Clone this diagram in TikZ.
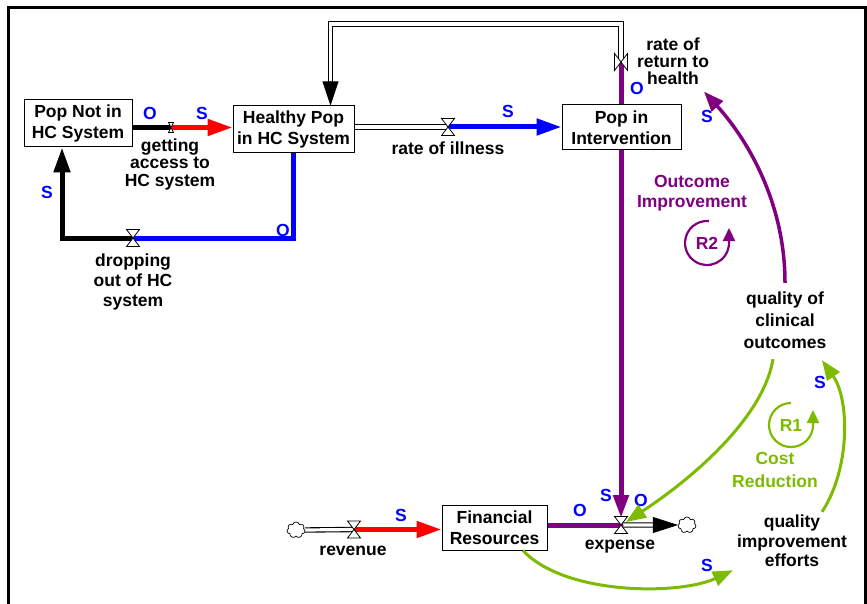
\documentclass[tikz,border=0pt]{standalone}
\usepackage{fontspec}
\setmainfont{Liberation Sans}
\usetikzlibrary{arrows.meta,shapes.symbols,calc,backgrounds}
\definecolor{linkgreen}{RGB}{124,187,0}
\definecolor{deeppurple}{RGB}{128,0,128}
\begin{document}
\begin{tikzpicture}[x=1pt,y=-1pt,
  txt/.style={font=\bfseries\fontsize{17.5}{#1}\selectfont,align=center,inner sep=0pt},
  txt/.default=21,
  stock/.style={txt,draw,line width=1pt,fill=white},
  pol/.style={txt,text=blue},
  pipe/.style={draw=black,double=white,double distance=3.2pt,line width=1.1pt},
  bighead/.style={-{Triangle[length=25pt,width=16pt]}},
  flowline/.style={line width=5pt},
  glink/.style={draw=linkgreen,line width=3pt,-{Triangle[length=20pt,width=15pt]}},
  plink/.style={draw=deeppurple,line width=3.5pt,-{Triangle[length=20pt,width=15pt]}},
  loopline/.style={line width=2.2pt,-{Triangle[length=13pt,width=12pt]}},
  cloudsrc/.style={cloud,cloud puffs=7,draw,line width=0.7pt,fill=white,
    minimum width=18pt,minimum height=16pt,inner sep=0pt,aspect=1.2},
  valve/.pic={\draw[line width=0.8pt,fill=white] (-6.5,-8.5) -- (6.5,-8.5) -- (-6.5,8.5) -- (6.5,8.5) -- cycle;},
  valveh/.pic={\draw[line width=0.8pt,fill=white] (-6.5,-8.5) -- (-6.5,8.5) -- (6.5,-8.5) -- (6.5,8.5) -- cycle;},
  smallvalve/.pic={\draw[line width=0.8pt,fill=white] (-2.5,-5) -- (2.5,-5) -- (-2.5,5) -- (2.5,5) -- cycle;},
]
\useasboundingbox (0,0) rectangle (867,604);

% stocks
\node[stock,minimum width=108pt,minimum height=47pt] (popnot) at (78,123.5) {Pop Not in\\HC System};
\node[stock,minimum width=121pt,minimum height=47pt] (heal) at (293.5,129.5) {Healthy Pop\\in HC System};
\node[stock,minimum width=119pt,minimum height=45pt] (pint) at (621.5,127.5) {Pop in\\Intervention};
\node[stock,minimum width=105pt,minimum height=45pt] (fin) at (494.5,527.5) {Financial\\Resources};

% sources and sinks
\node[cloudsrc] (cloudR) at (296,530) {};
\node[cloudsrc] (cloudE) at (687,525) {};

% flow and variable names
\node[txt=17.5] (lga) at (170,164) {getting\\access to\\HC system};
\node[txt=20] (ldr) at (133,282) {dropping\\out of HC\\system};
\node[txt] (lill) at (448,148) {rate of illness};
\node[txt=17] (ret) at (673,61) {rate of\\return to\\health};
\node[txt] (lexp) at (620,547) {expense};
\node[txt] (lrev) at (353,551) {revenue};
\node[txt=19.6] (qie) at (792,541) {quality\\improvement\\efforts};
\node[txt=22] (qco) at (785,320.5) {quality of\\clinical\\outcomes};

% loop names
\node[txt=20.5,text=deeppurple] (nameR2) at (692,193) {Outcome\\Improvement};
\node[txt=23,text=linkgreen] (nameR1) at (775,470) {Cost\\Reduction};
\node[txt,text=deeppurple] (r2) at (707,243) {R2};
\node[txt,text=linkgreen] (r1) at (791,425) {R1};

% polarity marks
\node[pol] (p1) at (150,113) {O};
\node[pol] (p2) at (202,113) {S};
\node[pol] (p3) at (47,192) {S};
\node[pol] (p4) at (283,230) {O};
\node[pol] (p5) at (508,111) {S};
\node[pol] (p6) at (637,88) {O};
\node[pol] (p7) at (707,116) {S};
\node[pol] (p8) at (606,495) {S};
\node[pol] (p9) at (641,500) {O};
\node[pol] (p10) at (580,510) {O};
\node[pol] (p11) at (401,515) {S};
\node[pol] (p12) at (707,565) {S};
\node[pol] (p13) at (820,382) {S};

% valve positions and pipe corners
\coordinate (vGa) at (171,127.5);
\coordinate (vDr) at (133,238);
\coordinate (vIll) at (448,127);
\coordinate (vRet) at (621,62);
\coordinate (vExp) at (621,525);
\coordinate (vRev) at (354,529.5);
\coordinate (pipeTop) at (330.5,24);
\coordinate (dropL) at (62,238);

\begin{pgfonlayer}{background}
  % frame
  \draw[line width=3pt] (8,610) -- (8,8) -- (865,8) -- (865,610);

  % pipes
  \draw[pipe] (heal.east |- vIll) -- (vIll);
  \draw[pipe] (vRet) -- (vRet |- pipeTop) -- (pipeTop) -- ($(heal.north -| pipeTop)+(0,-18)$);
  \draw[line width=0.6pt,-{Triangle[length=24pt,width=16pt]}] ($(heal.north -| pipeTop)+(0,-24)$) -- (heal.north -| pipeTop);
  \draw[pipe] (cloudR.east) -- (vRev);
  \draw[pipe] (vExp) -- ($(cloudE.west)+(-15,0)$);
  \draw[line width=0.6pt,-{Triangle[length=25pt,width=16pt]}] ($(cloudE.west)+(-25,0)$) -- (cloudE.west);

  % coloured flow segments
  \draw[flowline,line width=4.5pt,line cap=round] (popnot.east |- vGa) -- (vGa);
  \draw[flowline,red,bighead] (vGa) -- (heal.west |- vGa);
  \draw[flowline,blue,line cap=round] (heal.south) -- (heal.south |- vDr) -- (vDr);
  \draw[flowline,bighead] (vDr) -- (dropL) -- (dropL |- popnot.south);
  \draw[flowline,blue,bighead] (vIll) -- (pint.west |- vIll);
  \draw[flowline,deeppurple] (vRet) -- (vRet |- pint.north);
  \draw[flowline,deeppurple,line cap=round] (fin.east |- vExp) -- (vExp);
  \draw[flowline,red,bighead] (vRev) -- (fin.west |- vRev);

  % valves
  \path (vGa) pic {smallvalve};
  \path (vDr) pic {valve};
  \path (vIll) pic {valve};
  \path (vRev) pic {valve};
  \path (vExp) pic {valve};
  \path (vRet) pic {valveh};
\end{pgfonlayer}

% causal links
\draw[flowline,deeppurple,-{Triangle[length=23pt,width=15pt]}] (pint.south -| vExp) -- ($(vExp)+(0,-7)$);
\draw[glink] ($(qco.south)+(-12,10)$) .. controls +(-10,60) and +(64,-42) .. ($(vExp)+(5,-3)$);
\draw[glink] ($(qie.north)+(30,-3)$) .. controls +(28,-42) and +(28,40) .. ($(qco.south)+(37,11)$);
\draw[glink] ($(fin.south)+(28.5,0)$) .. controls +(42,45) and +(-53,25) .. ($(qie.south west)+(-4,3)$);
\draw[plink] ($(qco.north)+(0,-9)$) .. controls +(0,-83) and +(41,45) .. ($(ret.south)+(31,7)$);

% loop markers
\draw[loopline,draw=deeppurple] ($(r2)+(275:22)$) arc[start angle=275,end angle=0,radius=22] -- ++(0,-15);
\draw[loopline,draw=linkgreen] ($(r1)+(270:22)$) arc[start angle=270,end angle=0,radius=22] -- ++(0,-15);
\end{tikzpicture}
\end{document}
